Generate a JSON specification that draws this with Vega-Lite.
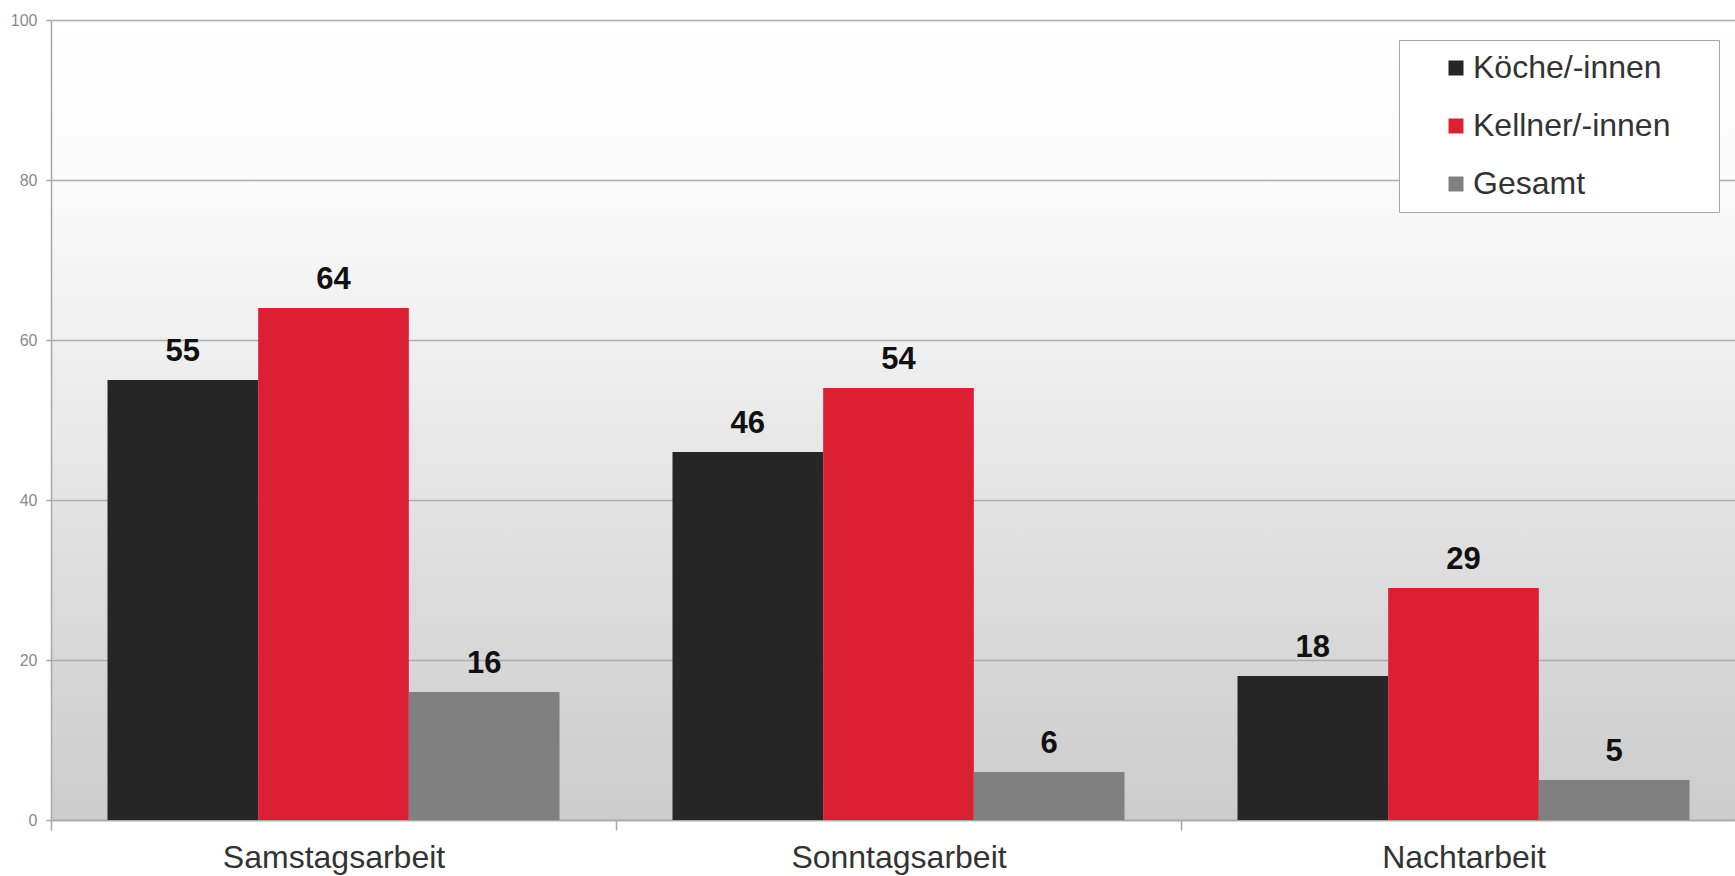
{
  "$schema": "https://vega.github.io/schema/vega-lite/v6.json",
  "width": 1684,
  "height": 800,
  "autosize": {"type": "none"},
  "padding": {"left": 51, "top": 20, "right": 0, "bottom": 56},
  "background": "#ffffff",
  "data": {
    "values": [
      {"kategorie": "Samstagsarbeit", "gruppe": "Köche/-innen", "wert": 55},
      {"kategorie": "Samstagsarbeit", "gruppe": "Kellner/-innen", "wert": 64},
      {"kategorie": "Samstagsarbeit", "gruppe": "Gesamt", "wert": 16},
      {"kategorie": "Sonntagsarbeit", "gruppe": "Köche/-innen", "wert": 46},
      {"kategorie": "Sonntagsarbeit", "gruppe": "Kellner/-innen", "wert": 54},
      {"kategorie": "Sonntagsarbeit", "gruppe": "Gesamt", "wert": 6},
      {"kategorie": "Nachtarbeit", "gruppe": "Köche/-innen", "wert": 18},
      {"kategorie": "Nachtarbeit", "gruppe": "Kellner/-innen", "wert": 29},
      {"kategorie": "Nachtarbeit", "gruppe": "Gesamt", "wert": 5}
    ]
  },
  "encoding": {
    "x": {
      "field": "kategorie",
      "type": "nominal",
      "sort": ["Samstagsarbeit", "Sonntagsarbeit", "Nachtarbeit"],
      "scale": {"range": [0, 1695], "paddingInner": 0, "paddingOuter": 0},
      "axis": {
        "title": null,
        "labelAngle": 0,
        "labelFont": "Liberation Sans",
        "labelFontSize": 32,
        "labelLimit": 500,
        "labelColor": "#333333",
        "labelPadding": 12,
        "tickBand": "extent",
        "tickSize": 10,
        "tickColor": "#a6a6a6",
        "tickWidth": 1.5,
        "domainColor": "#a6a6a6",
        "domainWidth": 1.5,
        "grid": false
      }
    },
    "xOffset": {
      "field": "gruppe",
      "type": "nominal",
      "sort": ["Köche/-innen", "Kellner/-innen", "Gesamt"],
      "scale": {"paddingInner": 0, "paddingOuter": 0.375}
    },
    "y": {
      "field": "wert",
      "type": "quantitative",
      "scale": {"domain": [0, 100], "nice": false},
      "axis": {
        "title": null,
        "values": [0, 20, 40, 60, 80, 100],
        "labelFont": "Liberation Sans",
        "labelFontSize": 16,
        "labelColor": "#8a8a8a",
        "labelPadding": 9,
        "tickSize": 5,
        "tickColor": "#a6a6a6",
        "tickWidth": 1.5,
        "domainColor": "#a6a6a6",
        "domainWidth": 1.5,
        "grid": true,
        "gridColor": "#acacac",
        "gridWidth": 1.5
      }
    }
  },
  "layer": [
    {
      "mark": {"type": "bar"},
      "encoding": {
        "color": {
          "field": "gruppe",
          "type": "nominal",
          "sort": ["Köche/-innen", "Kellner/-innen", "Gesamt"],
          "scale": {
            "domain": ["Köche/-innen", "Kellner/-innen", "Gesamt"],
            "range": ["#262626", "#dc2034", "#808080"]
          },
          "legend": {
            "title": null,
            "orient": "none",
            "legendX": 1348,
            "legendY": 20,
            "fillColor": "#ffffff",
            "strokeColor": "#a6a6a6",
            "padding": 12,
            "symbolOffset": 29,
            "symbolType": "square",
            "symbolSize": 225,
            "symbolStrokeWidth": 0,
            "labelFont": "Liberation Sans",
            "labelFontSize": 32,
            "labelColor": "#333333",
            "labelOffset": 1,
            "labelLimit": 500,
            "rowPadding": 26,
            "labelExpr": "datum.label + '    \u200b'"
          }
        }
      }
    },
    {
      "mark": {
        "type": "text",
        "baseline": "alphabetic",
        "dy": -19,
        "font": "Liberation Sans",
        "fontSize": 31,
        "fontWeight": "bold",
        "color": "#111111"
      },
      "encoding": {
        "text": {"field": "wert", "type": "quantitative"}
      }
    }
  ],
  "config": {
    "view": {
      "stroke": null,
      "fill": {
        "gradient": "linear",
        "x1": 0, "y1": 0, "x2": 0, "y2": 1,
        "stops": [
          {"offset": 0, "color": "#ffffff"},
          {"offset": 0.2, "color": "#fafafa"},
          {"offset": 0.4, "color": "#f0f0f0"},
          {"offset": 0.6, "color": "#e3e3e3"},
          {"offset": 0.8, "color": "#d7d7d7"},
          {"offset": 1, "color": "#cccccc"}
        ]
      }
    }
  }
}
